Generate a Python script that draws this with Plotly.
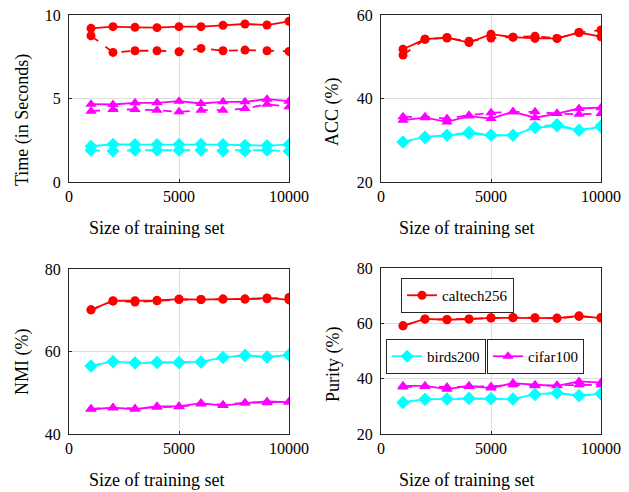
import plotly.graph_objects as go

x_sizes = [1000, 2000, 3000, 4000, 5000, 6000, 7000, 8000, 9000, 10000]
x_ticks = [0, 5000, 10000]
x_ticktext = ["0", "5000", "10000"]

# Time (in Seconds)
time_caltech_a = [9.20, 9.30, 9.26, 9.24, 9.30, 9.30, 9.38, 9.46, 9.40, 9.62]
time_caltech_b = [8.76, 7.76, 7.86, 7.86, 7.80, 8.00, 7.86, 7.90, 7.86, 7.82]
time_cifar_a = [4.66, 4.64, 4.74, 4.74, 4.84, 4.70, 4.80, 4.80, 4.96, 4.84]
time_cifar_b = [4.24, 4.34, 4.34, 4.30, 4.20, 4.30, 4.30, 4.40, 4.66, 4.50]
time_birds_a = [2.14, 2.26, 2.24, 2.24, 2.24, 2.26, 2.24, 2.20, 2.18, 2.24]
time_birds_b = [1.90, 1.86, 1.90, 1.90, 1.90, 1.90, 1.86, 1.86, 1.90, 1.84]

# ACC (%)
acc_caltech_a = [51.8, 54.2, 54.6, 53.4, 55.4, 54.7, 54.4, 54.4, 55.8, 54.8]
acc_caltech_b = [50.4, 54.2, 54.5, 53.7, 54.5, 54.7, 54.9, 54.4, 55.8, 56.4]
acc_cifar_a = [34.8, 35.4, 34.4, 35.8, 35.2, 36.8, 35.4, 36.4, 37.6, 37.8]
acc_cifar_b = [35.6, 35.6, 35.2, 36.0, 36.6, 36.8, 36.8, 36.4, 36.2, 36.4]
acc_birds_a = [29.6, 30.8, 31.2, 31.6, 31.2, 31.2, 33.0, 33.4, 32.4, 33.2]
acc_birds_b = [29.6, 30.6, 31.2, 31.9, 31.2, 31.2, 33.2, 33.8, 32.4, 33.4]

# NMI (%)
nmi_caltech_a = [70.1, 72.3, 72.3, 72.4, 72.7, 72.6, 72.7, 72.7, 73.0, 72.5]
nmi_caltech_b = [70.1, 72.2, 72.0, 72.3, 72.6, 72.6, 72.7, 72.7, 72.8, 73.1]
nmi_birds_a = [56.5, 57.6, 57.2, 57.3, 57.3, 57.5, 58.6, 59.0, 58.6, 59.2]
nmi_birds_b = [56.5, 57.5, 57.3, 57.4, 57.4, 57.4, 58.5, 59.1, 58.7, 59.1]
nmi_cifar_a = [46.0, 46.4, 46.0, 46.7, 46.7, 47.5, 46.9, 47.5, 47.9, 47.7]
nmi_cifar_b = [46.1, 46.3, 46.2, 46.5, 46.6, 47.3, 47.1, 47.6, 47.6, 47.9]

# Purity (%)
pur_caltech_a = [59.1, 61.6, 61.3, 61.5, 62.0, 62.0, 61.9, 61.9, 62.7, 61.9]
pur_caltech_b = [59.1, 61.5, 61.4, 61.6, 61.9, 62.1, 62.0, 61.8, 62.5, 62.1]
pur_cifar_a = [37.4, 37.4, 36.2, 37.4, 36.6, 38.4, 37.8, 37.4, 39.0, 38.6]
pur_cifar_b = [37.0, 37.2, 37.0, 37.2, 37.2, 37.8, 37.4, 37.6, 37.8, 37.8]
pur_birds_a = [31.4, 32.6, 32.6, 32.8, 32.8, 32.6, 34.4, 34.8, 33.9, 34.5]
pur_birds_b = [31.4, 32.5, 32.7, 32.9, 32.7, 32.7, 34.2, 34.9, 33.8, 34.6]

legend_names = ["caltech256", "birds200", "cifar100"]
x_title = "Size of training set"
y_titles = ["Time (in Seconds)", "ACC (%)", "NMI (%)", "Purity (%)"]

RED = "#ff0000"
CYAN = "#00ffff"
MAG = "#ff00ff"
FONT = "Liberation Serif"
AX = "#262626"

fig = go.Figure()

panels = [
    ("x", "y", [(time_caltech_a, time_caltech_b, RED, "circle"),
                (time_cifar_a, time_cifar_b, MAG, "triangle-up"),
                (time_birds_a, time_birds_b, CYAN, "diamond")]),
    ("x2", "y2", [(acc_caltech_a, acc_caltech_b, RED, "circle"),
                  (acc_cifar_a, acc_cifar_b, MAG, "triangle-up"),
                  (acc_birds_a, acc_birds_b, CYAN, "diamond")]),
    ("x3", "y3", [(nmi_caltech_a, nmi_caltech_b, RED, "circle"),
                  (nmi_birds_a, nmi_birds_b, CYAN, "diamond"),
                  (nmi_cifar_a, nmi_cifar_b, MAG, "triangle-up")]),
]

msize = {"circle": 9, "triangle-up": 10, "diamond": 10}
LW = 1.8

for xa, ya, series in panels:
    for a, b, col, sym in series:
        fig.add_trace(go.Scatter(x=x_sizes, y=b, xaxis=xa, yaxis=ya, mode="lines+markers",
                                 line=dict(color=col, width=LW, dash="dash"),
                                 marker=dict(color=col, symbol=sym, size=msize[sym]),
                                 showlegend=False))
        fig.add_trace(go.Scatter(x=x_sizes, y=a, xaxis=xa, yaxis=ya, mode="lines+markers",
                                 line=dict(color=col, width=LW),
                                 marker=dict(color=col, symbol=sym, size=msize[sym]),
                                 showlegend=False))

# Purity panel with legends
pur_series = [(pur_caltech_a, pur_caltech_b, RED, "circle", legend_names[0], "legend"),
              (pur_cifar_a, pur_cifar_b, MAG, "triangle-up", legend_names[2], "legend3"),
              (pur_birds_a, pur_birds_b, CYAN, "diamond", legend_names[1], "legend2")]
for a, b, col, sym, name, lg in pur_series:
    fig.add_trace(go.Scatter(x=x_sizes, y=b, xaxis="x4", yaxis="y4", mode="lines+markers",
                             line=dict(color=col, width=LW, dash="dash"),
                             marker=dict(color=col, symbol=sym, size=msize[sym]),
                             showlegend=False))
    fig.add_trace(go.Scatter(x=x_sizes, y=a, xaxis="x4", yaxis="y4", mode="lines+markers",
                             line=dict(color=col, width=LW),
                             marker=dict(color=col, symbol=sym, size=msize[sym]),
                             name=name, legend=lg, showlegend=True))

# page body has an 8px margin: work in window pixels and shift
OFF = 8
W, H = 621, 484


def px(xw):
    return (xw - OFF) / W


def py(yw):
    return 1 - (yw - OFF) / H


def xd(l, r):
    return [px(l), px(r)]


def yd(t, b):
    return [py(b), py(t)]


TICKFONT = dict(family=FONT, size=16, color="#000")
TITLEFONT = dict(family=FONT, size=18, color="#000")

common_axis = dict(showline=True, mirror=True, linecolor=AX, linewidth=1,
                   ticks="inside", ticklen=3, tickcolor=AX, zeroline=False,
                   showgrid=True, gridcolor="#dedede", gridwidth=1, automargin=False,
                   ticklabeloverflow="allow", tickfont=TICKFONT)

xcommon = dict(common_axis, range=[0, 10000], tickvals=x_ticks, ticktext=x_ticktext)
ycommon = dict(common_axis, ticklabelstandoff=4)

annotations = []
for (xc, yc) in [(156, 228), (467, 228), (156, 480), (467, 480)]:
    annotations.append(dict(text=x_title, x=px(xc), y=py(yc), xref="paper", yref="paper",
                            showarrow=False, font=TITLEFONT, xanchor="center", yanchor="middle"))
for t, (xc, yc) in zip(y_titles, [(22, 120), (333, 112), (22, 362), (333, 364)]):
    annotations.append(dict(text=t, x=px(xc), y=py(yc), xref="paper", yref="paper", textangle=-90,
                            showarrow=False, font=TITLEFONT, xanchor="center", yanchor="middle"))

LEGFONT = dict(family=FONT, size=15, color="#000")

fig.update_layout(
    width=W, height=H,
    margin=dict(l=0, r=0, t=0, b=0, autoexpand=False),
    paper_bgcolor="white", plot_bgcolor="white",
    font=dict(family=FONT, size=16, color="#000"),
    xaxis=dict(xcommon, domain=xd(69, 289), anchor="y"),
    yaxis=dict(ycommon, domain=yd(15, 182), anchor="x", range=[0, 10], tickvals=[0, 5, 10]),
    xaxis2=dict(xcommon, domain=xd(381, 601), anchor="y2"),
    yaxis2=dict(ycommon, domain=yd(15, 182), anchor="x2", range=[20, 60], tickvals=[20, 40, 60]),
    xaxis3=dict(xcommon, domain=xd(69, 289), anchor="y3"),
    yaxis3=dict(ycommon, domain=yd(269, 434), anchor="x3", range=[40, 80], tickvals=[40, 60, 80]),
    xaxis4=dict(xcommon, domain=xd(381, 601), anchor="y4"),
    yaxis4=dict(ycommon, domain=yd(268, 434), anchor="x4", range=[20, 80], tickvals=[20, 40, 60, 80]),
    annotations=annotations,
    legend=dict(x=px(401), y=py(278), xanchor="left", yanchor="top",
                bgcolor="white", bordercolor=AX, borderwidth=1, font=LEGFONT),
    legend2=dict(x=px(386), y=py(339), xanchor="left", yanchor="top",
                 bgcolor="white", bordercolor=AX, borderwidth=1, font=LEGFONT),
    legend3=dict(x=px(487), y=py(339), xanchor="left", yanchor="top",
                 bgcolor="white", bordercolor=AX, borderwidth=1, font=LEGFONT),
)

fig.write_html("out.html")
